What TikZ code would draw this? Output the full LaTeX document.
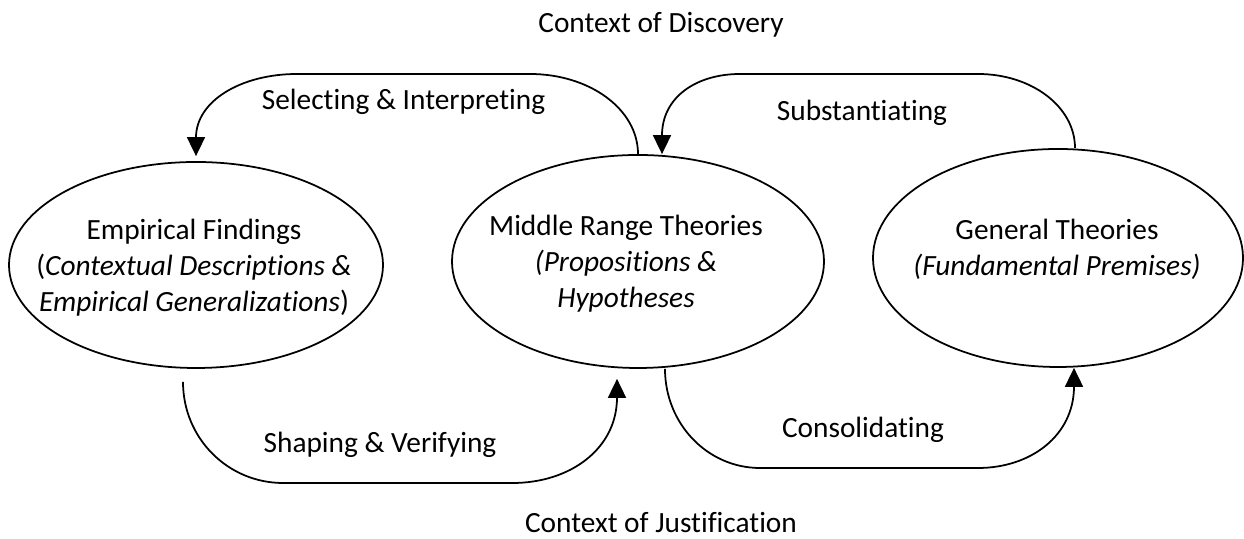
\documentclass[tikz,border=0pt]{standalone}
\usepackage{fontspec}
\setmainfont{Carlito}[Ligatures=NoCommon]
\usetikzlibrary{shapes.geometric,arrows.meta}

\begin{document}
\begin{tikzpicture}[
        every node/.style = {font=\fontsize{16.7}{20.5}\selectfont},
        oval/.style = {shape=ellipse, draw, line width=1pt,
          inner sep=0pt},
        txt/.style = {align=center, inner sep=0pt},
        lbl/.style = {anchor=base, inner sep=0pt},
        arr/.style = {line width=1pt,
          -{Triangle[length=0.38cm,width=0.36cm]}}
        ]
        \useasboundingbox (0,0) rectangle (24.88,10.78);

        \node[oval, minimum width=7.48cm, minimum height=4.12cm] (emp) at (3.92,5.48) {};
        \node[oval, minimum width=7.44cm, minimum height=4.26cm] (mid) at (12.76,5.55) {};
        \node[oval, minimum width=7.40cm, minimum height=4.36cm] (gen) at (21.16,5.62) {};

        \node[txt] (empTxt) at (3.88,5.42) {Empirical Findings\\
          (\textit{Contextual Descriptions \&}\\
          \textit{Empirical Generalizations})};
        \node[txt] (midTxt) at (12.52,5.50) {Middle Range Theories\\
          \textit{(Propositions \&}\\
          \textit{Hypotheses}};
        \node[txt] (genTxt) at (21.14,5.80) {General Theories\\
          \textit{(Fundamental Premises)}};

        \node[lbl] (discovery) at (13.22,10.12) {Context of Discovery};
        \node[lbl] (justification) at (13.22,0.12) {Context of Justification};
        \node[lbl] (selecting) at (8.07,8.58) {Selecting \& Interpreting};
        \node[lbl] (substantiating) at (17.24,8.36) {Substantiating};
        \node[lbl] (shaping) at (7.60,1.72) {Shaping \& Verifying};
        \begin{scope}
          \clip (15.5,1.92) rectangle (19,3);
          \node[lbl] (consolidating) at (17.26,2.02) {Consolidating};
        \end{scope}

        \coordinate (si-r) at (10.60,9.30);
        \coordinate (si-l) at (5.94,9.30);
        \coordinate (su-r) at (19.56,9.30);
        \coordinate (su-l) at (14.80,9.30);
        \coordinate (sv-l) at (5.66,1.12);
        \coordinate (sv-r) at (10.25,1.12);
        \coordinate (co-l) at (15.20,1.42);
        \coordinate (co-r) at (19.56,1.42);

        \draw[arr, shorten >=0.1cm] (mid.north)
          .. controls +(0,0.90) and +(1.19,0) .. (si-r) -- (si-l)
          .. controls +(-1.12,0) and +(0,1.2) .. (emp.north);
        \draw[arr] ([xshift=0.34cm]gen.north)
          .. controls +(0,0.83) and +(1.07,0) .. (su-r) -- (su-l)
          .. controls +(-0.86,0) and +(0,1.15) .. ([xshift=0.48cm]mid.north);
        \draw[arr] ([xshift=-0.26cm,yshift=-0.26cm]emp.south)
          .. controls +(0,-1.13) and +(-1.10,0) .. (sv-l) -- (sv-r)
          .. controls +(1.15,0) and +(0,-1.4) .. ([xshift=-0.42cm,yshift=-0.2cm]mid.south);
        \draw[arr] ([xshift=0.54cm]mid.south)
          .. controls +(0,-1.10) and +(-1.05,0) .. (co-l) -- (co-r)
          .. controls +(1.06,0) and +(0,-1.35) .. ([xshift=0.32cm]gen.south);
\end{tikzpicture}
\end{document}
